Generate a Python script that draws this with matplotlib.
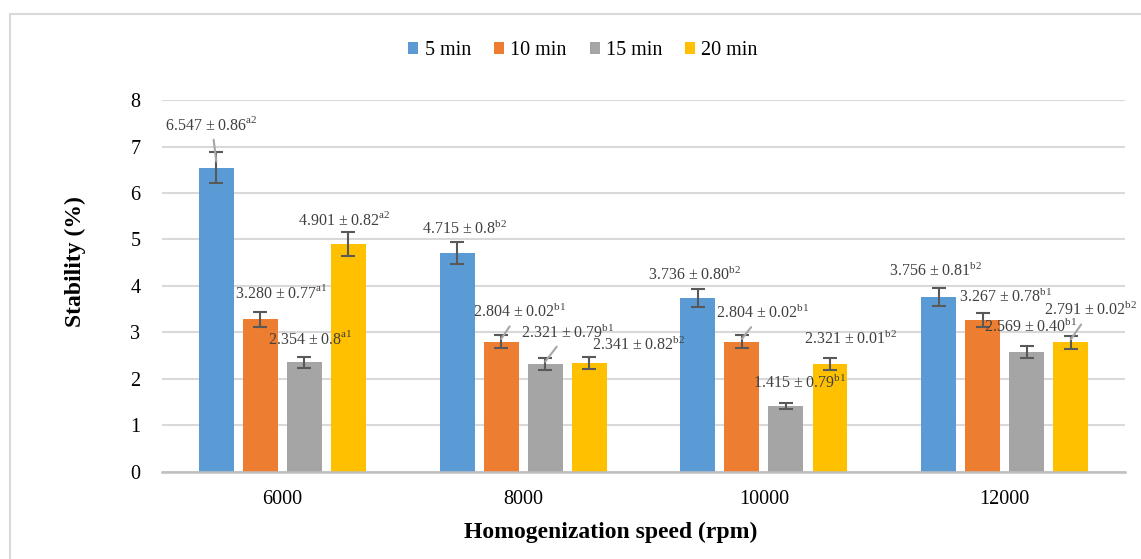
import numpy as np
import matplotlib.pyplot as plt
from matplotlib.patches import Rectangle

plt.rcParams['font.family'] = 'Liberation Serif'
plt.rcParams['mathtext.fontset'] = 'custom'
plt.rcParams['mathtext.rm'] = 'Liberation Serif'

speeds = ['6000', '8000', '10000', '12000']
series = ['5 min', '10 min', '15 min', '20 min']
colors = ['#5B9BD5', '#ED7D31', '#A5A5A5', '#FFC000']

vals = [
    [6.547, 4.715, 3.736, 3.756],
    [3.280, 2.804, 2.804, 3.267],
    [2.354, 2.321, 1.415, 2.569],
    [4.901, 2.341, 2.321, 2.791],
]
# error bars as drawn in the figure
errs = [
    [0.33, 0.24, 0.19, 0.19],
    [0.16, 0.14, 0.14, 0.16],
    [0.12, 0.12, 0.07, 0.13],
    [0.25, 0.12, 0.12, 0.14],
]
sd = [
    ['0.86', '0.8', '0.80', '0.81'],
    ['0.77', '0.02', '0.02', '0.78'],
    ['0.8', '0.79', '0.79', '0.40'],
    ['0.82', '0.82', '0.01', '0.02'],
]
letters = [
    ['a2', 'b2', 'b2', 'b2'],
    ['a1', 'b1', 'b1', 'b1'],
    ['a1', 'b1', 'b1', 'b1'],
    ['a2', 'b2', 'b2', 'b2'],
]

# label placement (data coords) and whether a leader line is drawn
lab_pos = [
    [(-0.293, 7.46), (0.757, 5.23), (1.712, 4.24), (2.712, 4.32)],
    [(-0.006, 3.85), (0.985, 3.44), (1.994, 3.42), (3.006, 3.78)],
    [(0.118, 2.86), (1.185, 3.00), (2.147, 1.91), (3.110, 3.12)],
    [(0.259, 5.42), (1.480, 2.73), (2.359, 2.86), (3.359, 3.48)],
]
leader = [
    [True, False, False, False],
    [False, True, True, False],
    [False, True, False, False],
    [False, False, False, True],
]

fig = plt.figure(figsize=(11.41, 5.59), dpi=100)
fig.patches.append(Rectangle((0.009, -0.1), 1.2, 1.075, transform=fig.transFigure,
                             fill=False, edgecolor='#d9d9d9', lw=1.5))
ax = fig.add_axes([0.142, 0.156, 0.844, 0.665])

x = np.arange(len(speeds))
step = 0.183
width = 0.145
for i in range(4):
    xi = x + (i - 1.5) * step
    ax.bar(xi, vals[i], width, color=colors[i], label=series[i], zorder=2)
    ax.errorbar(xi, vals[i], yerr=errs[i], fmt='none', ecolor='#595959',
                elinewidth=1.5, capsize=5, capthick=1.5, zorder=3)
    for j in range(4):
        txt = '%.3f ± %s$^{\\mathrm{%s}}$' % (vals[i][j], sd[i][j], letters[i][j])
        if leader[i][j]:
            ax.annotate(txt, xy=(xi[j], vals[i][j] + errs[i][j] * 0.4), xytext=lab_pos[i][j],
                        ha='center', va='center', fontsize=11.5, color='#404040',
                        arrowprops=dict(arrowstyle='-', color='#a6a6a6', lw=1.5,
                                        shrinkA=2, shrinkB=0), zorder=4)
        else:
            ax.text(lab_pos[i][j][0], lab_pos[i][j][1], txt, ha='center', va='center',
                    fontsize=11.5, color='#404040', zorder=4)

ax.set_xlim(-0.5, 3.5)
ax.set_ylim(0, 8)
ax.set_yticks(range(9))
ax.set_xticks(x)
ax.set_xticklabels(speeds)
ax.tick_params(axis='both', length=0, labelsize=14.5)
ax.tick_params(axis='y', pad=15.5)
ax.tick_params(axis='x', pad=13)
ax.grid(axis='y', color='#d9d9d9', lw=1.5, zorder=0)
ax.set_axisbelow(True)
for s in ['top', 'right', 'left']:
    ax.spines[s].set_visible(False)
ax.spines['bottom'].set_color('#bfbfbf')
ax.spines['bottom'].set_linewidth(1.8)

ax.set_ylabel('Stability (%)', fontsize=17, fontweight='bold')
ax.yaxis.set_label_coords(-0.079, 0.565)
ax.set_xlabel('Homogenization speed (rpm)', fontsize=17, fontweight='bold')
ax.xaxis.set_label_coords(0.466, -0.134)

fig.legend(loc='center', bbox_to_anchor=(0.511, 0.909), ncol=4, frameon=False,
           fontsize=14.5, handlelength=0.5, handleheight=0.5, handletextpad=0.3,
           columnspacing=1.15)

fig.savefig('out.png', dpi=100)
